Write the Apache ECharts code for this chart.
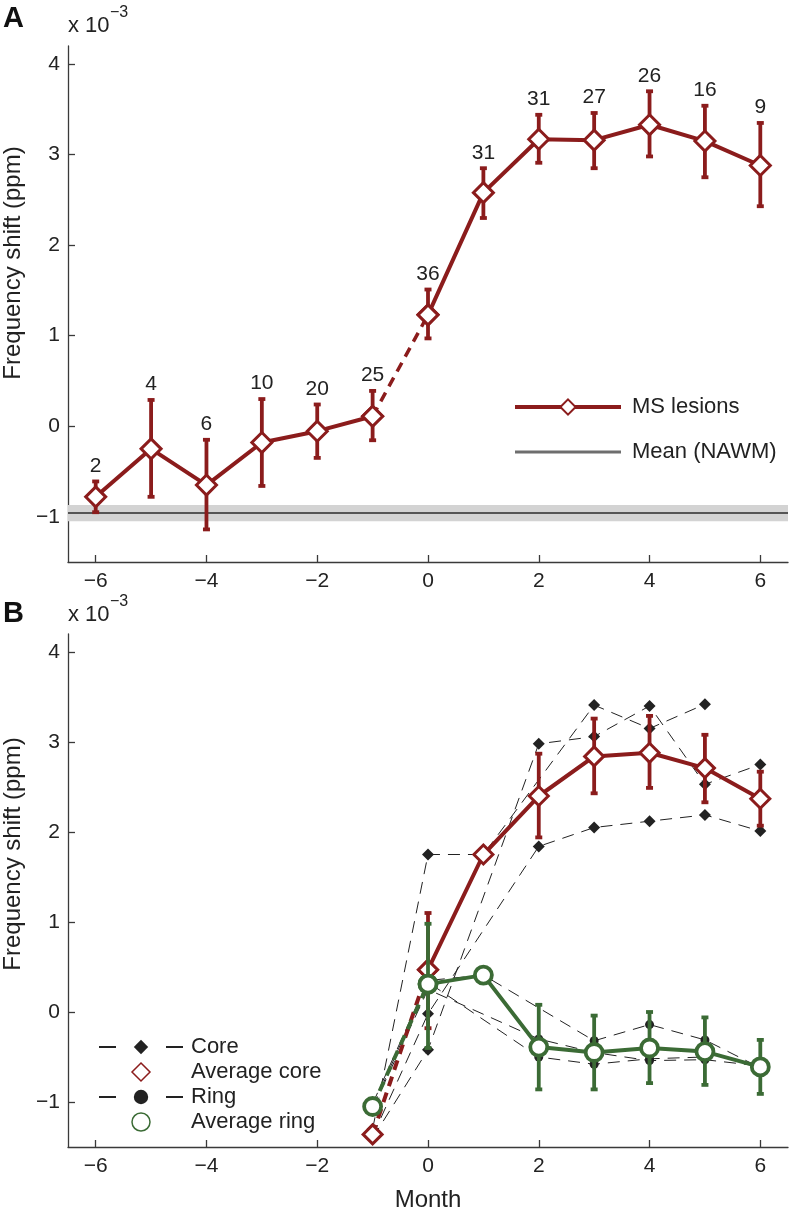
<!DOCTYPE html>
<html><head><meta charset="utf-8">
<script src="https://cdn.jsdelivr.net/npm/echarts@6/dist/echarts.min.js"></script>
<style>html,body{margin:0;padding:0;background:#fff}#c{width:790px;height:1213px}</style>
</head><body><div id="c"></div>
<script>
// ---------- Panel A data ----------
const monthsA = [-6,-5,-4,-3,-2,-1,0,1,2,3,4,5,6];
const msMean  = [-0.78,-0.25,-0.65,-0.18,-0.055,0.11,1.23,2.58,3.17,3.16,3.33,3.15,2.88];
const msUpper = [-0.61,0.29,-0.15,0.30,0.24,0.39,1.51,2.85,3.44,3.46,3.70,3.54,3.35];
const msLower = [-0.95,-0.78,-1.14,-0.66,-0.35,-0.155,0.97,2.30,2.91,2.85,2.98,2.75,2.43];
const msCounts = [2,4,6,10,20,25,36,31,31,27,26,16,9];
const nawmMean = -0.96, nawmLow = -1.05, nawmHigh = -0.87;

// ---------- Panel B data ----------
const monthsB = [-1,0,1,2,3,4,5,6];
const coreAvg   = [-1.36,0.47,1.75,2.40,2.84,2.88,2.71,2.37];
const coreUpper = [null,1.10,null,2.87,3.26,3.29,3.08,2.67];
const coreLower = [null,-0.18,null,1.94,2.43,2.49,2.33,2.07];
const ringAvg   = [-1.05,0.31,0.41,-0.39,-0.45,-0.40,-0.44,-0.61];
const ringUpper = [null,0.98,null,0.08,-0.04,0.00,-0.06,-0.31];
const ringLower = [null,-0.40,null,-0.86,-0.86,-0.79,-0.81,-0.91];
const core1 = [-1.30,1.75,1.75,null,3.41,3.15,3.42,null];
const core2 = [-1.40,-0.42,null,2.98,3.06,3.40,2.53,2.75];
const core3 = [-1.38,-0.02,null,1.84,2.05,2.12,2.19,2.01];
const ring1 = [-1.02,0.35,0.41,null,-0.32,-0.14,-0.31,-0.62];
const ring2 = [-1.07,0.25,null,-0.30,-0.45,-0.54,-0.53,-0.60];
const ring3 = [-1.06,0.33,null,-0.50,-0.58,-0.52,-0.50,null];

// ---------- ticks ----------
const xTicks = [-6,-4,-2,0,2,4,6];
const yTicks = [-1,0,1,2,3,4];

const RED = '#8b1c1c', GREEN = '#3b6b35', BLACK = '#222222', AXIS = '#3a3a3a';
const FONT = '"Liberation Sans", Arial, Helvetica, sans-serif';
const DIAMOND = 'path://M0,-10L10,0L0,10L-10,0Z';
const CIRCLE = 'path://M-10,0A10,10 0 1,0 10,0A10,10 0 1,0 -10,0Z';

function pts(xs, ys, from, to) {
  const out = [];
  xs.forEach((x, i) => { if (ys[i] != null && (from == null || (x >= from && x <= to))) out.push([x, ys[i]]); });
  return out;
}
function fmt(v) { return v < 0 ? '\u2212' + Math.abs(v) : String(v); }

function errSeries(ax, xs, lo, hi, color, labels, z) {
  const data = [];
  xs.forEach((x, i) => { if (lo[i] != null) data.push([x, lo[i], hi[i], labels ? labels[i] : '']); });
  return {
    type: 'custom', xAxisIndex: ax, yAxisIndex: ax, z: z, silent: true,
    renderItem: function (params, api) {
      const x = api.value(0);
      const p1 = api.coord([x, api.value(1)]);
      const p2 = api.coord([x, api.value(2)]);
      const c = 3.5;
      const st = { stroke: color, lineWidth: 3.8, fill: null };
      const ch = [
        { type: 'line', shape: { x1: p1[0], y1: p1[1], x2: p2[0], y2: p2[1] }, style: st },
        { type: 'line', shape: { x1: p1[0] - c, y1: p1[1], x2: p1[0] + c, y2: p1[1] }, style: st },
        { type: 'line', shape: { x1: p2[0] - c, y1: p2[1], x2: p2[0] + c, y2: p2[1] }, style: st }
      ];
      const lab = data[params.dataIndex][3];
      if (lab !== '') {
        ch.push({ type: 'text', x: p2[0], y: p2[1] - 5,
          style: { text: String(lab), fill: '#222', fontSize: 21, fontFamily: FONT, align: 'center', verticalAlign: 'bottom' } });
      }
      return { type: 'group', children: ch };
    },
    data: data
  };
}

function xAxisCfg(gi, name) {
  return {
    type: 'value', gridIndex: gi, min: -6.5, max: 6.5,
    name: name || '', nameLocation: 'middle', nameGap: 41,
    nameTextStyle: { fontSize: 24, color: '#222', fontFamily: FONT },
    axisLine: { show: true, onZero: false, lineStyle: { color: AXIS, width: 1.3 } },
    axisTick: { show: true, inside: true, length: 7, customValues: xTicks, lineStyle: { color: AXIS, width: 1.3 } },
    axisLabel: { customValues: xTicks, formatter: fmt, fontSize: 21, color: '#222', fontFamily: FONT, margin: 9 },
    splitLine: { show: false }
  };
}
function yAxisCfg(gi) {
  return {
    type: 'value', gridIndex: gi, min: -1.5, max: 4.2,
    axisLine: { show: true, onZero: false, lineStyle: { color: AXIS, width: 1.3 } },
    axisTick: { show: true, inside: true, length: 7, customValues: yTicks, lineStyle: { color: AXIS, width: 1.3 } },
    axisLabel: { customValues: yTicks, formatter: fmt, fontSize: 21, color: '#222', fontFamily: FONT, margin: 8 },
    splitLine: { show: false }
  };
}

const msSym = { symbol: 'diamond', symbolSize: 20, itemStyle: { color: '#fff', borderColor: RED, borderWidth: 3 } };
const coreAvgSym = { symbol: 'diamond', symbolSize: 19, itemStyle: { color: '#fff', borderColor: RED, borderWidth: 3 } };
const ringAvgSym = { symbol: 'circle', symbolSize: 17, itemStyle: { color: '#fff', borderColor: GREEN, borderWidth: 3.8 } };

function indiv(name, data, sym, size) {
  return {
    name: name, type: 'line', xAxisIndex: 1, yAxisIndex: 1, z: 2,
    data: pts(monthsB, data), symbol: sym, symbolSize: size,
    itemStyle: { color: BLACK }, lineStyle: { color: BLACK, width: 1, type: [12, 8] }
  };
}

const series = [
  // Panel A
  { name: 'Mean (NAWM)', type: 'line', xAxisIndex: 0, yAxisIndex: 0, z: 1,
    data: [[-6.5, nawmMean], [6.5, nawmMean]], symbol: 'none',
    itemStyle: { color: '#6a6a6a' }, lineStyle: { color: '#555', width: 2 },
    markArea: { silent: true, itemStyle: { color: '#d3d3d3' }, data: [[{ yAxis: nawmLow }, { yAxis: nawmHigh }]] } },
  errSeries(0, monthsA, msLower, msUpper, RED, msCounts, 3),
  Object.assign({ name: 'MS lesions', type: 'line', xAxisIndex: 0, yAxisIndex: 0, z: 4,
    data: pts(monthsA, msMean, -6, -1), lineStyle: { color: RED, width: 4 } }, msSym),
  Object.assign({ name: 'MS lesions', type: 'line', xAxisIndex: 0, yAxisIndex: 0, z: 4,
    data: pts(monthsA, msMean, 0, 6), lineStyle: { color: RED, width: 4 } }, msSym),
  Object.assign({ name: 'MS lesions', type: 'line', xAxisIndex: 0, yAxisIndex: 0, z: 4,
    data: pts(monthsA, msMean, -1, 0), lineStyle: { color: RED, width: 3.5, type: [10, 7] } }, msSym),

  // Panel B individual lesions
  indiv('Core', core1, 'diamond', 12),
  indiv('Core', core2, 'diamond', 12),
  indiv('Core', core3, 'diamond', 12),
  indiv('Ring', ring1, 'circle', 9),
  indiv('Ring', ring2, 'circle', 9),
  indiv('Ring', ring3, 'circle', 9),

  // Panel B averages
  errSeries(1, monthsB, coreLower, coreUpper, RED, null, 3),
  Object.assign({ name: 'Average core', type: 'line', xAxisIndex: 1, yAxisIndex: 1, z: 4,
    data: pts(monthsB, coreAvg, -1, 0), lineStyle: { color: RED, width: 4, type: [10, 7] } }, coreAvgSym),
  Object.assign({ name: 'Average core', type: 'line', xAxisIndex: 1, yAxisIndex: 1, z: 4,
    data: pts(monthsB, coreAvg, 0, 6), lineStyle: { color: RED, width: 4 } }, coreAvgSym),
  errSeries(1, monthsB, ringLower, ringUpper, GREEN, null, 5),
  Object.assign({ name: 'Average ring', type: 'line', xAxisIndex: 1, yAxisIndex: 1, z: 6,
    data: pts(monthsB, ringAvg, -1, 0), lineStyle: { color: GREEN, width: 4, type: [10, 7] } }, ringAvgSym),
  Object.assign({ name: 'Average ring', type: 'line', xAxisIndex: 1, yAxisIndex: 1, z: 6,
    data: pts(monthsB, ringAvg, 0, 6), lineStyle: { color: GREEN, width: 4 } }, ringAvgSym)
];

const option = {
  animation: false,
  backgroundColor: '#fff',
  textStyle: { fontFamily: FONT },
  grid: [
    { left: 68, right: 2, top: 46, bottom: 651 },
    { left: 68, right: 2, top: 634, bottom: 63 }
  ],
  xAxis: [xAxisCfg(0), xAxisCfg(1, 'Month')],
  yAxis: [yAxisCfg(0), yAxisCfg(1)],
  legend: [
    { orient: 'vertical', left: 513, top: 396, padding: 0, itemWidth: 106, itemHeight: 19, itemGap: 23, selectedMode: false,
      textStyle: { fontSize: 22, color: '#222', fontFamily: FONT, padding: [0, 0, 0, 6] },
      data: [
        { name: 'MS lesions', lineStyle: { width: 4 }, itemStyle: { borderWidth: 2 } },
        { name: 'Mean (NAWM)', icon: 'path://M0,0L100,0L100,2.8L0,2.8Z', itemStyle: { color: '#6e6e6e' } }
      ] },
    { orient: 'vertical', left: 98, top: 1036, padding: 0, itemWidth: 84, itemHeight: 18, itemGap: 3, selectedMode: false,
      textStyle: { fontSize: 22, color: '#222', fontFamily: FONT, padding: [0, 0, 0, 3] },
      data: [
        { name: 'Core', lineStyle: { type: [17, 50] } },
        { name: 'Average core', icon: DIAMOND, itemStyle: { color: '#fff', borderColor: RED, borderWidth: 1.5 } },
        { name: 'Ring', lineStyle: { type: [17, 50] } },
        { name: 'Average ring', icon: CIRCLE, itemStyle: { color: '#fff', borderColor: GREEN, borderWidth: 1.5 } }
      ] }
  ],
  graphic: [
    { type: 'text', x: 3, y: 4, style: { text: 'A', fill: '#111', font: 'bold 29px ' + FONT } },
    { type: 'text', x: 3, y: 599, style: { text: 'B', fill: '#111', font: 'bold 29px ' + FONT } },
    { type: 'text', x: 68, y: 26, style: { text: 'x 10', fill: '#222', font: '22px ' + FONT, verticalAlign: 'middle' } },
    { type: 'text', x: 110, y: 13, style: { text: '\u22123', fill: '#222', font: '16px ' + FONT, verticalAlign: 'middle' } },
    { type: 'text', x: 68, y: 615, style: { text: 'x 10', fill: '#222', font: '22px ' + FONT, verticalAlign: 'middle' } },
    { type: 'text', x: 110, y: 602, style: { text: '\u22123', fill: '#222', font: '16px ' + FONT, verticalAlign: 'middle' } },
    { type: 'text', x: 13, y: 263, rotation: Math.PI / 2,
      style: { text: 'Frequency shift (ppm)', fill: '#222', font: '24px ' + FONT, align: 'center', verticalAlign: 'middle' } },
    { type: 'text', x: 13, y: 854, rotation: Math.PI / 2,
      style: { text: 'Frequency shift (ppm)', fill: '#222', font: '24px ' + FONT, align: 'center', verticalAlign: 'middle' } }
  ],
  series: series
};

const chart = echarts.init(document.getElementById('c'), null, { renderer: 'canvas' });
chart.setOption(option);
</script>
</body></html>
